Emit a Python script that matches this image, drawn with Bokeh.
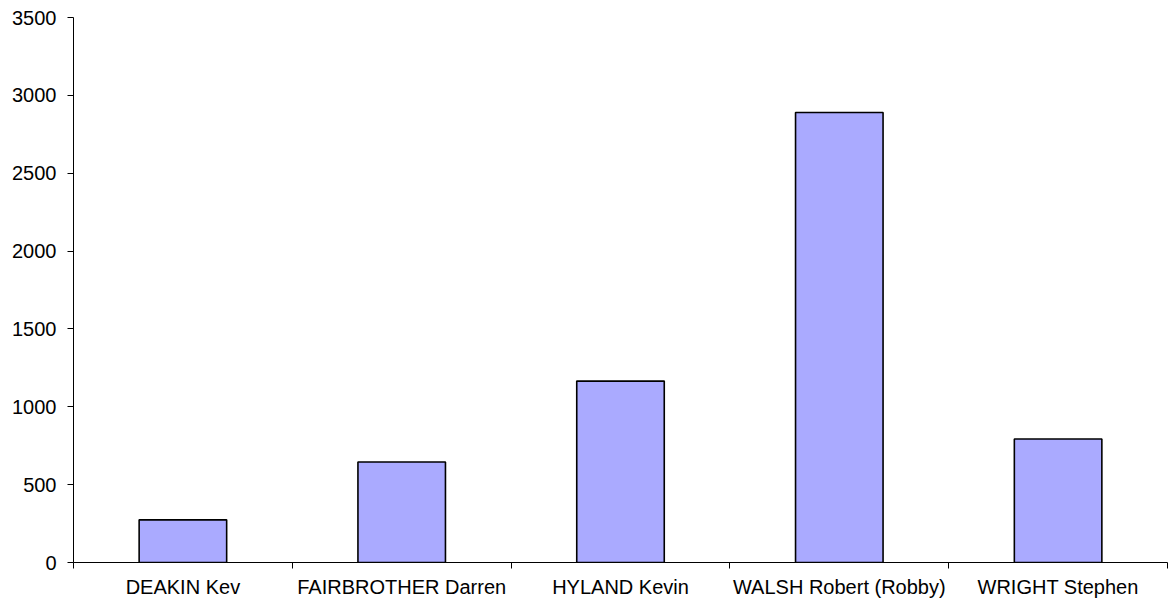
from bokeh.plotting import figure
from bokeh.models import ColumnDataSource, FixedTicker, Range1d
from bokeh.embed import file_html
from bokeh.resources import INLINE

names = ["DEAKIN Kev", "FAIRBROTHER Darren", "HYLAND Kevin", "WALSH Robert (Robby)", "WRIGHT Stephen"]
values = [274, 645, 1165, 2890, 793]
y_ticks = [0, 500, 1000, 1500, 2000, 2500, 3000, 3500]

positions = [i + 0.5 for i in range(len(names))]
source = ColumnDataSource(dict(x=positions, top=values, name=names))

p = figure(width=1168, height=601, output_backend="svg", toolbar_location=None,
           x_range=Range1d(0, len(names)), y_range=Range1d(0, 3500),
           min_border_left=73, min_border_right=1, min_border_top=17, min_border_bottom=39)

p.vbar(x="x", top="top", width=0.4, bottom=0, source=source,
       fill_color="#AAAAFF", line_color="black", line_width=1.6)

p.outline_line_color = None
p.grid.visible = False
p.background_fill_color = "white"
p.border_fill_color = "white"

FONT = "Liberation Sans"

xa = p.xaxis[0]
xa.ticker = FixedTicker(ticks=positions, minor_ticks=list(range(len(names) + 1)))
xa.major_label_overrides = {pos: n for pos, n in zip(positions, names)}
xa.major_tick_out = 0
xa.major_tick_in = 0
xa.minor_tick_out = 6
xa.minor_tick_in = 0
xa.minor_tick_line_color = "black"
xa.axis_line_color = "black"
xa.major_label_standoff = 7
xa.major_label_text_font = FONT
xa.major_label_text_font_size = "20px"
xa.major_label_text_color = "black"

ya = p.yaxis[0]
ya.ticker = FixedTicker(ticks=y_ticks)
ya.major_tick_out = 6
ya.major_tick_in = 0
ya.minor_tick_line_color = None
ya.axis_line_color = "black"
ya.major_label_standoff = 11
ya.major_label_text_font = FONT
ya.major_label_text_font_size = "20px"
ya.major_label_text_color = "black"

open("out.html", "w").write(file_html(p, INLINE))
